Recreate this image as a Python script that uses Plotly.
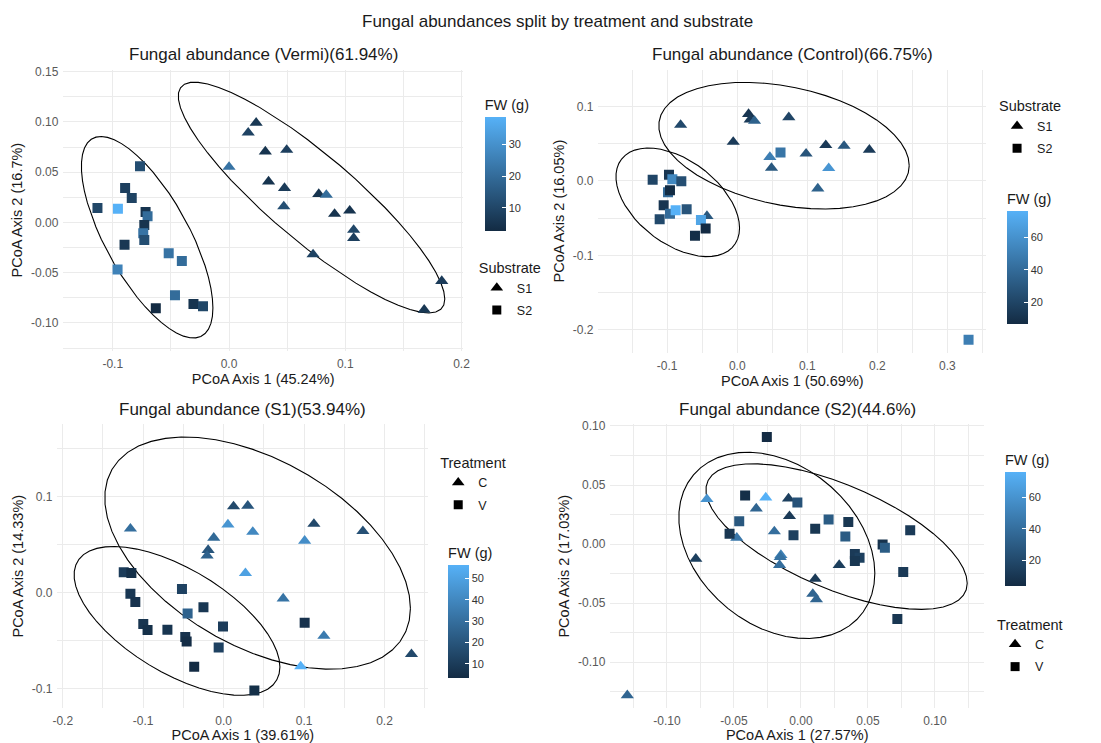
import numpy as np
import plotly.graph_objects as go

W, H = 1101, 743

# ---------------- Vermi panel: split by substrate ----------------
vermi_s1_x = [0.0233, 0.0165, 0.0312, 0.0496, 0.0000, 0.0340, 0.0477, 0.0772, 0.0837,
              0.0471, 0.0908, 0.1038, 0.1072, 0.1072, 0.0723, 0.1830, 0.1679]
vermi_s1_y = [0.0990, 0.0893, 0.0705, 0.0721, 0.0552, 0.0406, 0.0341, 0.0282, 0.0273,
              0.0159, 0.0084, 0.0117, -0.0075, -0.0156, -0.0318, -0.0584, -0.0870]
vermi_s1_fw = [6, 9, 5, 8, 22, 5, 7, 5, 20, 12, 5, 5, 10, 8, 9, 7, 6]

vermi_s2_x = [-0.0766, -0.0894, -0.0837, -0.1132, -0.0956, -0.0718, -0.0701, -0.0729, -0.0738,
              -0.0729, -0.0899, -0.0519, -0.0406, -0.0959, -0.0465, -0.0630, -0.0306, -0.0224]
vermi_s2_y = [0.0558, 0.0341, 0.0244, 0.0143, 0.0136, 0.0104, 0.0062, -0.0026, -0.0107,
              -0.0175, -0.0221, -0.0308, -0.0383, -0.0468, -0.0724, -0.0854, -0.0812, -0.0834]
vermi_s2_fw = [12, 8, 9, 10, 38.6, 5, 20, 5, 22, 12, 6, 22, 20, 26, 20, 2.6, 5, 10]

# ---------------- Control panel: split by substrate ----------------
control_s1_x = [-0.0808, -0.0057, 0.0162, 0.0185, 0.0247, 0.0736, 0.0466, 0.0489,
                0.0983, 0.1264, 0.1525, 0.1886, 0.1306, 0.1150, -0.0432]
control_s1_y = [0.0753, 0.0524, 0.0899, 0.0824, 0.0806, 0.0855, 0.0322, 0.0176,
                0.0366, 0.0480, 0.0471, 0.0419, 0.0172, -0.0101, -0.0471]
control_s1_fw = [22, 15, 12, 15, 35, 20, 50, 30, 28, 14, 30, 15, 62, 35, 30]

control_s2_x = [-0.1207, -0.0974, -0.0926, -0.0798, -0.0988, -0.0960, -0.1050, -0.1107,
                -0.0960, -0.0879, -0.0722, -0.0518, -0.0451, -0.0603, 0.0618, 0.3302]
control_s2_y = [0.0018, 0.0084, 0.0022, -0.0004, -0.0150, -0.0123, -0.0326, -0.0515,
                -0.0441, -0.0392, -0.0379, -0.0524, -0.0639, -0.0736, 0.0383, -0.2132]
control_s2_fw = [20, 12, 55, 25, 40, 7, 12, 22, 40, 76.4, 28, 70, 6.6, 8, 45, 50]

# ---------------- S1 panel: split by treatment ----------------
s1_c_x = [-0.1159, 0.0123, 0.0300, 0.0053, 0.0362, -0.0123, -0.0193, -0.0206,
          0.1122, 0.1731, 0.1007, 0.0271, 0.0740, 0.1246, 0.0958, 0.2335]
s1_c_y = [0.0664, 0.0895, 0.0902, 0.0706, 0.0630, 0.0568, 0.0441, 0.0382,
          0.0713, 0.0637, 0.0537, 0.0200, -0.0065, -0.0454, -0.0771, -0.0644]
s1_c_fw = [30, 15, 20, 45, 40, 28, 20, 25, 15, 18, 42, 50, 32, 35, 56.2, 15]

s1_v_x = [-0.1242, -0.1147, -0.1159, -0.1098, -0.0999, -0.0946, -0.0699, -0.0518, -0.0448,
          -0.0251, -0.0008, -0.0477, -0.0460, -0.0062, -0.0366, 0.1007, 0.0382]
s1_v_y = [0.0210, 0.0203, -0.0014, -0.0100, -0.0330, -0.0392, -0.0389, 0.0034, -0.0220,
          -0.0155, -0.0355, -0.0465, -0.0513, -0.0575, -0.0775, -0.0317, -0.1022]
s1_v_fw = [10, 5, 8, 6, 7, 5, 7, 12, 25, 8, 10, 6, 4, 12, 3.2, 6, 5]

# ---------------- S2 panel: split by treatment ----------------
s2_c_x = [-0.0702, -0.0263, -0.0334, -0.0093, -0.0086, -0.0199, -0.0479, -0.0785,
          -0.0150, -0.0155, -0.0160, 0.0106, 0.0088, 0.0115, 0.0285, -0.1296]
s2_c_y = [0.0380, 0.0394, 0.0301, 0.0385, 0.0236, 0.0107, 0.0053, -0.0124,
          -0.0093, -0.0110, -0.0177, -0.0295, -0.0422, -0.0467, -0.0177, -0.1280]
s2_c_fw = [60, 76, 35, 15, 12, 40, 45, 15, 50, 42, 40, 12, 35, 35, 14, 35]

s2_v_x = [-0.0255, -0.0417, -0.0027, -0.0461, -0.0533, -0.0056, 0.0106, 0.0206, 0.0353,
          0.0331, 0.0815, 0.0609, 0.0626, 0.0402, 0.0437, 0.0402, 0.0763, 0.0719]
s2_v_y = [0.0906, 0.0411, 0.0352, 0.0194, 0.0087, 0.0076, 0.0129, 0.0208, 0.0188,
          0.0065, 0.0118, -0.0003, -0.0031, -0.0084, -0.0115, -0.0143, -0.0236, -0.0633]
s2_v_fw = [3.8, 6, 25, 28, 10, 15, 10, 30, 10, 30, 12, 8, 30, 12, 15, 10, 12, 10]

# ---------------- tick labels ----------------
vermi_xticks = ["-0.1", "0.0", "0.1", "0.2"]
vermi_yticks = ["-0.10", "-0.05", "0.00", "0.05", "0.10", "0.15"]
control_xticks = ["-0.1", "0.0", "0.1", "0.2", "0.3"]
control_yticks = ["-0.2", "-0.1", "0.0", "0.1"]
s1_xticks = ["-0.2", "-0.1", "0.0", "0.1", "0.2"]
s1_yticks = ["-0.1", "0.0", "0.1"]
s2_xticks = ["-0.10", "-0.05", "0.00", "0.05", "0.10"]
s2_yticks = ["-0.10", "-0.05", "0.00", "0.05", "0.10"]

vermi_fw_ticks = [10, 20, 30]
control_fw_ticks = [20, 40, 60]
s1_fw_ticks = [10, 20, 30, 40, 50]
s2_fw_ticks = [20, 40, 60]

LOW, HIGH = "#132B43", "#56B1F7"
GRID = "#EBEBEB"
FONT = "Liberation Sans"
INK = "#1A1A1A"


def cov_trob(pts, nu=5, maxit=25, tol=0.01):
    """Multivariate t robust location/scatter (as MASS::cov.trob)."""
    x = np.asarray(pts, dtype=float)
    n, p = x.shape
    loc = x.mean(axis=0)
    w = np.ones(n)
    X = x - loc
    for _ in range(maxit):
        w0 = w
        X = x - loc
        A = np.sqrt(w / w.sum())[:, None] * X
        _, d, vt = np.linalg.svd(A, full_matrices=False)
        wX = X @ vt.T @ np.diag(1.0 / d)
        Q = (wX ** 2).sum(axis=1)
        w = (nu + p) / (nu + Q)
        loc = (w[:, None] * x).sum(axis=0) / w.sum()
        if np.all(np.abs(w - w0) < tol):
            break
    sX = np.sqrt(w)[:, None] * X
    return loc, sX.T @ sX / n


def confidence_ellipse(xs, ys, level=0.95, segments=51):
    n = len(xs)
    center, shape = cov_trob(np.column_stack([xs, ys]))
    upper = np.linalg.cholesky(shape).T
    dfd = n - 1
    fq = dfd / 2.0 * ((1 - level) ** (-2.0 / dfd) - 1)  # F(2, dfd) quantile
    radius = np.sqrt(2 * fq)
    ang = np.arange(segments + 1) * 2 * np.pi / segments
    circ = np.column_stack([np.cos(ang), np.sin(ang)])
    ell = center + radius * circ @ upper
    return ell[:, 0], ell[:, 1]


def parse(labels):
    return [float(s) for s in labels]


def px_x(v):
    return v / W


def px_y(v):
    return 1 - v / H


panels = [
    dict(title="Fungal abundance (Vermi)(61.94%)",
         xtitle="PCoA Axis 1 (45.24%)", ytitle="PCoA Axis 2 (16.7%)",
         legend_title="Substrate",
         groups=[("S1", vermi_s1_x, vermi_s1_y, vermi_s1_fw, "triangle-up"),
                 ("S2", vermi_s2_x, vermi_s2_y, vermi_s2_fw, "square")],
         xt=vermi_xticks, yt=vermi_yticks, ft=vermi_fw_ticks,
         box=(59, 463, 65, 348), cbar=(485, 92, 135), leg=(477, 251)),
    dict(title="Fungal abundance (Control)(66.75%)",
         xtitle="PCoA Axis 1 (50.69%)", ytitle="PCoA Axis 2 (16.05%)",
         legend_title="Substrate",
         groups=[("S1", control_s1_x, control_s1_y, control_s1_fw, "triangle-up"),
                 ("S2", control_s2_x, control_s2_y, control_s2_fw, "square")],
         xt=control_xticks, yt=control_yticks, ft=control_fw_ticks,
         box=(600, 992, 65, 350), cbar=(1013, 186, 134), leg=(1003, 88)),
    dict(title="Fungal abundance (S1)(53.94%)",
         xtitle="PCoA Axis 1 (39.61%)", ytitle="PCoA Axis 2 (14.33%)",
         legend_title="Treatment",
         groups=[("C", s1_c_x, s1_c_y, s1_c_fw, "triangle-up"),
                 ("V", s1_v_x, s1_v_y, s1_v_fw, "square")],
         xt=s1_xticks, yt=s1_yticks, ft=s1_fw_ticks,
         box=(53, 428, 422, 708), cbar=(448, 543, 134), leg=(438, 447)),
    dict(title="Fungal abundance (S2)(44.6%)",
         xtitle="PCoA Axis 1 (27.57%)", ytitle="PCoA Axis 2 (17.03%)",
         legend_title="Treatment",
         groups=[("C", s2_c_x, s2_c_y, s2_c_fw, "triangle-up"),
                 ("V", s2_v_x, s2_v_y, s2_v_fw, "square")],
         xt=s2_xticks, yt=s2_yticks, ft=s2_fw_ticks,
         box=(612, 990, 422, 708), cbar=(1011, 449, 135), leg=(1001, 610)),
]

fig = go.Figure()
layout = dict(
    width=W, height=H, margin=dict(l=0, r=0, t=0, b=0),
    paper_bgcolor="white", plot_bgcolor="white",
    font=dict(family=FONT, color=INK),
    annotations=[dict(text="Fungal abundances split by treatment and substrate",
                      x=px_x(559), y=px_y(17), xref="paper", yref="paper",
                      showarrow=False, font=dict(size=17, color=INK),
                      xanchor="center", yanchor="middle")],
)


def minor_vals(major):
    step = major[1] - major[0]
    return list(np.arange(major[0] - step / 2, major[-1] + step, step))


for i, pn in enumerate(panels, start=1):
    sfx = "" if i == 1 else str(i)
    xa, ya = f"x{sfx}", f"y{sfx}"
    cax = f"coloraxis{sfx}"
    leg = f"legend{sfx}"

    all_x, all_y, all_fw = [], [], []
    ellipses = []
    for name, gx, gy, gfw, sym in pn["groups"]:
        ex, ey = confidence_ellipse(gx, gy)
        ellipses.append((ex, ey))
        all_x += list(gx) + list(ex)
        all_y += list(gy) + list(ey)
        all_fw += list(gfw)

    # 95% t-ellipses per group
    for ex, ey in ellipses:
        fig.add_trace(go.Scatter(x=ex, y=ey, mode="lines", xaxis=xa, yaxis=ya,
                                 line=dict(color="black", width=1.1),
                                 showlegend=False, hoverinfo="skip"))
    # samples, coloured by fresh weight
    for name, gx, gy, gfw, sym in pn["groups"]:
        fig.add_trace(go.Scatter(
            x=gx, y=gy, mode="markers", xaxis=xa, yaxis=ya, name=name,
            marker=dict(symbol=sym, size=11.5 if sym == "triangle-up" else 10,
                        color=gfw, coloraxis=cax, line=dict(width=0)),
            showlegend=False))
    # shape legend entries (one group each so the gap between rows can be set)
    for name, gx, gy, gfw, sym in pn["groups"]:
        fig.add_trace(go.Scatter(
            x=[None], y=[None], mode="markers", xaxis=xa, yaxis=ya, name=name,
            marker=dict(symbol=sym, size=11 if sym == "triangle-up" else 9, color="black"),
            legend=leg, legendgroup=f"{leg}-{name}", showlegend=True))

    x0, x1 = min(all_x), max(all_x)
    y0, y1 = min(all_y), max(all_y)
    dx, dy = (x1 - x0) * 0.05, (y1 - y0) * 0.05

    l, r, t, b = pn["box"]
    xv, yv = parse(pn["xt"]), parse(pn["yt"])
    axis_common = dict(showline=False, zeroline=False, ticks="",
                       showgrid=True, gridcolor=GRID, gridwidth=1.3,
                       tickfont=dict(size=12, color="#595959"))
    layout[f"xaxis{sfx}"] = dict(
        domain=[px_x(l), px_x(r)], anchor=ya, range=[x0 - dx, x1 + dx],
        tickvals=xv, ticktext=pn["xt"], ticklabelstandoff=4,
        minor=dict(tickvals=minor_vals(xv), showgrid=True, gridcolor=GRID, gridwidth=0.7),
        title=dict(text=pn["xtitle"], font=dict(size=14.5, color=INK), standoff=3),
        **axis_common)
    layout[f"yaxis{sfx}"] = dict(
        domain=[px_y(b), px_y(t)], anchor=xa, range=[y0 - dy, y1 + dy],
        tickvals=yv, ticktext=pn["yt"], ticklabelstandoff=4,
        minor=dict(tickvals=minor_vals(yv), showgrid=True, gridcolor=GRID, gridwidth=0.7),
        title=dict(text=pn["ytitle"], font=dict(size=14.5, color=INK), standoff=4),
        **axis_common)

    cx, ctop, clen = pn["cbar"]
    layout[cax] = dict(
        colorscale=[[0, LOW], [1, HIGH]], cmin=min(all_fw), cmax=max(all_fw),
        colorbar=dict(x=px_x(cx), xanchor="left", y=px_y(ctop), yanchor="top",
                      lenmode="pixels", len=clen, thickness=21, thicknessmode="pixels",
                      xpad=0, ypad=0, outlinewidth=0,
                      title=dict(text="FW (g)", side="top", font=dict(size=14.5, color=INK)),
                      tickvals=pn["ft"], ticks="inside", ticklen=4, tickcolor="white",
                      tickfont=dict(size=11, color="#333333")))

    lx, ly = pn["leg"]
    layout[leg] = dict(x=px_x(lx), y=px_y(ly), xanchor="left", yanchor="top",
                       title=dict(text=pn["legend_title"], font=dict(size=14.5, color=INK)),
                       font=dict(size=12.5, color=INK),
                       bgcolor="rgba(0,0,0,0)", itemwidth=30, tracegroupgap=3)

    layout["annotations"].append(dict(
        text=pn["title"], x=px_x((l + r) / 2), y=px_y(t - 15), xref="paper", yref="paper",
        showarrow=False, font=dict(size=17, color=INK),
        xanchor="center", yanchor="middle"))

fig.update_layout(**layout)
fig.write_html("out.html")
